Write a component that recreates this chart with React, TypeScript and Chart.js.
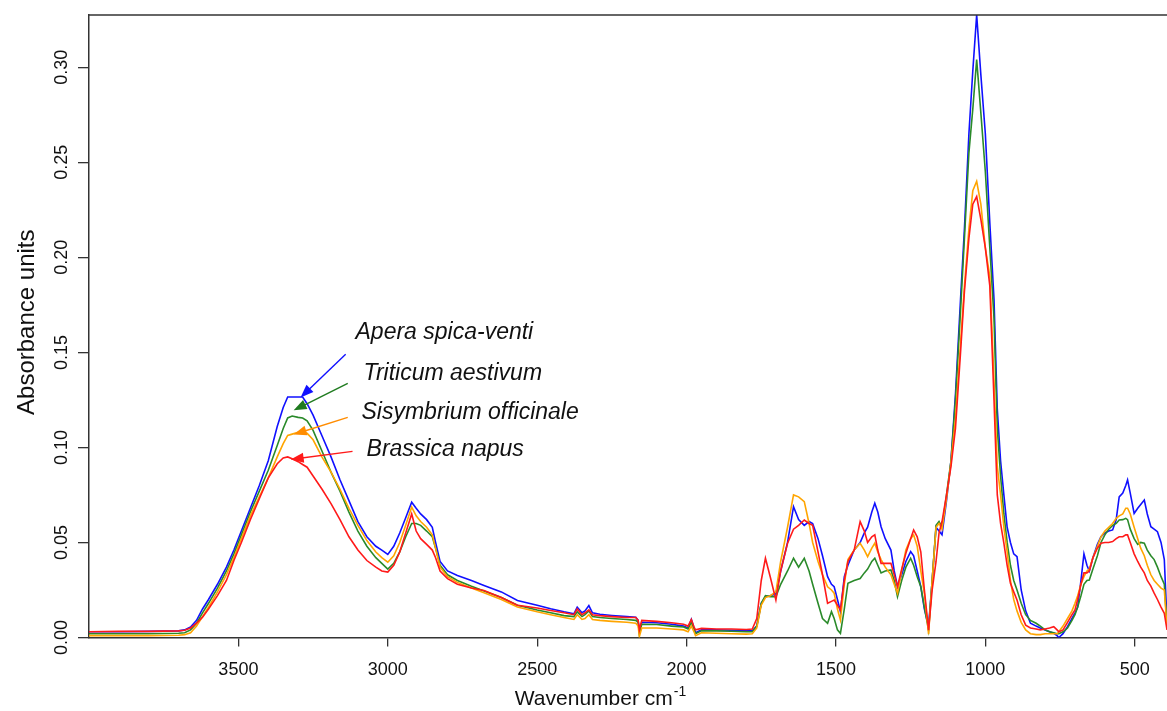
import React, { useEffect, useRef } from 'react';
import { Chart, registerables } from 'chart.js';

Chart.register(...registerables);

// Wavenumbers (cm-1) at which the spectra were read
const wavenumbers = [
  4000, 3900, 3800, 3700, 3680, 3660, 3640, 3620, 3600, 3570,
  3540, 3515, 3490, 3460, 3430, 3400, 3370, 3350, 3335, 3320,
  3300, 3285, 3270, 3250, 3220, 3190, 3160, 3130, 3100, 3070,
  3040, 3020, 3000, 2980, 2960, 2940, 2920, 2905, 2890, 2870,
  2851, 2840, 2825, 2800, 2767, 2720, 2678, 2620, 2566, 2500,
  2455, 2410, 2377, 2366, 2350, 2340, 2327, 2315, 2290, 2250,
  2200, 2170, 2162, 2158, 2150, 2100, 2050, 2010, 1995, 1984,
  1975, 1970, 1950, 1900, 1850, 1800, 1780, 1765, 1750, 1736,
  1720, 1701, 1685, 1662, 1642, 1625, 1606, 1590, 1578, 1560,
  1545, 1528, 1515, 1506, 1495, 1485, 1472, 1460, 1439, 1419,
  1405, 1394, 1380, 1370, 1360, 1349, 1335, 1316, 1305, 1294,
  1280, 1266, 1250, 1240, 1228, 1216, 1204, 1190, 1178, 1165,
  1155, 1145, 1130, 1115, 1100, 1083, 1070, 1055, 1042, 1029,
  1015, 1000, 985, 971, 960, 949, 938, 927, 916, 905,
  894, 880, 865, 849, 830, 816, 800, 785, 771, 760,
  754, 740, 725, 710, 700, 691, 680, 670, 660, 652,
  640, 625, 613, 600, 587, 574, 562, 552, 540, 530,
  524, 515, 502, 490, 480, 468, 458, 446, 435, 424,
  412, 401, 392,
];

const aperaSpicaVenti = [
  0.003, 0.003, 0.0032, 0.0035, 0.004, 0.0055, 0.009, 0.015, 0.02, 0.028,
  0.037, 0.046, 0.056, 0.068, 0.08, 0.093, 0.111, 0.121, 0.1265, 0.1265,
  0.1265, 0.1265, 0.123, 0.117, 0.106, 0.095, 0.083, 0.072, 0.061, 0.053,
  0.048, 0.046, 0.0437, 0.048, 0.055, 0.063, 0.0712, 0.068, 0.065, 0.062,
  0.058, 0.05, 0.04, 0.035, 0.0326, 0.03, 0.0274, 0.024, 0.0195, 0.017,
  0.0151, 0.0135, 0.0125, 0.016, 0.013, 0.014, 0.0168, 0.013, 0.0122, 0.0116,
  0.011, 0.0107, 0.009, 0.003, 0.008, 0.0078, 0.007, 0.006, 0.005, 0.0095,
  0.005, 0.0025, 0.004, 0.004, 0.0038, 0.0035, 0.0035, 0.006, 0.018, 0.0215,
  0.022, 0.023, 0.035, 0.05, 0.0688, 0.062, 0.059, 0.061, 0.06, 0.052,
  0.043, 0.032, 0.028, 0.0267, 0.02, 0.0136, 0.032, 0.038, 0.046, 0.05,
  0.055, 0.058, 0.066, 0.0706, 0.066, 0.0583, 0.052, 0.046, 0.035, 0.027,
  0.033, 0.04, 0.0452, 0.043, 0.035, 0.0267, 0.015, 0.0057, 0.03, 0.058,
  0.056, 0.054, 0.072, 0.093, 0.128, 0.178, 0.215, 0.265, 0.298, 0.3276,
  0.296, 0.265, 0.218, 0.178, 0.12, 0.093, 0.075, 0.058, 0.05, 0.044,
  0.0425, 0.025, 0.014, 0.0075, 0.006, 0.005, 0.004, 0.003, 0.0022, 0.001,
  0.0, 0.002, 0.0057, 0.01, 0.013, 0.016, 0.03, 0.044, 0.038, 0.035,
  0.042, 0.049, 0.053, 0.055, 0.056, 0.0566, 0.062, 0.074, 0.076, 0.08,
  0.0829, 0.076, 0.0653, 0.068, 0.07, 0.0723, 0.065, 0.0583, 0.057, 0.0557,
  0.05, 0.041, 0.008,
];

const triticumAestivum = [
  0.002, 0.002, 0.002, 0.0022, 0.0025, 0.004, 0.0075, 0.013, 0.018, 0.026,
  0.035, 0.044, 0.054, 0.066, 0.077, 0.088, 0.101, 0.11, 0.1155, 0.1165,
  0.1158, 0.1155, 0.114, 0.109, 0.098, 0.087, 0.077, 0.066, 0.056, 0.048,
  0.042, 0.039, 0.036, 0.039, 0.045, 0.053, 0.06, 0.06, 0.059, 0.056,
  0.053, 0.047, 0.038, 0.033, 0.03, 0.027, 0.0245, 0.021, 0.017, 0.0145,
  0.013, 0.0115, 0.011, 0.0135, 0.011, 0.012, 0.014, 0.011, 0.0105, 0.01,
  0.0095, 0.009, 0.008, 0.002, 0.007, 0.0068, 0.006, 0.0055, 0.0045, 0.008,
  0.0045, 0.002, 0.0035, 0.0035, 0.0033, 0.003, 0.003, 0.006, 0.018, 0.022,
  0.0215, 0.0215, 0.028, 0.035, 0.0417, 0.037, 0.0417, 0.035, 0.028, 0.018,
  0.01, 0.0075, 0.0136, 0.01, 0.004, 0.0022, 0.015, 0.0285, 0.03, 0.031,
  0.034, 0.036, 0.04, 0.0417, 0.038, 0.034, 0.035, 0.0355, 0.03, 0.0215,
  0.03, 0.037, 0.0417, 0.038, 0.032, 0.0267, 0.016, 0.004, 0.03, 0.059,
  0.061, 0.058, 0.075, 0.093, 0.125, 0.172, 0.21, 0.255, 0.278, 0.304,
  0.276, 0.245, 0.205, 0.168, 0.11, 0.085, 0.065, 0.05, 0.038, 0.03,
  0.025, 0.018, 0.012, 0.009, 0.0075, 0.006, 0.004, 0.003, 0.0025, 0.002,
  0.002, 0.003, 0.005, 0.009, 0.012, 0.016, 0.022, 0.028, 0.03, 0.0302,
  0.036, 0.043, 0.05, 0.054, 0.057, 0.059, 0.06, 0.0618, 0.062, 0.0627,
  0.062, 0.057, 0.052, 0.049, 0.05, 0.0496, 0.046, 0.043, 0.041, 0.037,
  0.032, 0.028, 0.006,
];

const sisymbriumOfficinale = [
  0.001, 0.001, 0.001, 0.0012, 0.0015, 0.0025, 0.006, 0.011, 0.016, 0.024,
  0.033, 0.042, 0.052, 0.064, 0.074, 0.084, 0.095, 0.102, 0.1063, 0.107,
  0.108, 0.108, 0.1075, 0.104, 0.0949, 0.087, 0.078, 0.068, 0.059, 0.051,
  0.045, 0.042, 0.0396, 0.043, 0.05, 0.059, 0.0686, 0.064, 0.061, 0.058,
  0.054, 0.047, 0.037, 0.032, 0.029, 0.026, 0.0235, 0.02, 0.016, 0.0135,
  0.012, 0.0105, 0.0095, 0.012, 0.0095, 0.01, 0.012, 0.0095, 0.009, 0.0085,
  0.008, 0.0075, 0.006, 0.0005, 0.005, 0.005, 0.0045, 0.004, 0.003, 0.006,
  0.003, 0.001, 0.0025, 0.0022, 0.002, 0.0018, 0.002, 0.005, 0.017, 0.021,
  0.022, 0.024, 0.04, 0.058, 0.075, 0.074, 0.0715, 0.06, 0.05, 0.04,
  0.033, 0.0267, 0.025, 0.0233, 0.015, 0.0092, 0.028, 0.041, 0.046, 0.0496,
  0.046, 0.0425, 0.047, 0.0496, 0.045, 0.041, 0.037, 0.033, 0.028, 0.0233,
  0.035, 0.046, 0.052, 0.054, 0.048, 0.035, 0.023, 0.0017, 0.03, 0.058,
  0.06, 0.057, 0.073, 0.092, 0.115, 0.155, 0.185, 0.215, 0.235, 0.24,
  0.228, 0.205, 0.19, 0.135, 0.09, 0.075, 0.058, 0.045, 0.03, 0.02,
  0.014, 0.008, 0.004, 0.002, 0.0015, 0.0015, 0.002, 0.002, 0.002, 0.002,
  0.003, 0.006, 0.01, 0.014, 0.018, 0.022, 0.028, 0.032, 0.035, 0.036,
  0.042, 0.048, 0.053, 0.056, 0.058, 0.06, 0.0627, 0.064, 0.065, 0.068,
  0.068, 0.065, 0.058, 0.052, 0.047, 0.043, 0.038, 0.033, 0.03, 0.028,
  0.026, 0.025, 0.005,
];

const brassicaNapus = [
  0.003, 0.0032, 0.0032, 0.0035, 0.0038, 0.005, 0.0075, 0.0107, 0.015, 0.022,
  0.03, 0.0405, 0.05, 0.062, 0.073, 0.084, 0.0914, 0.0945, 0.095, 0.094,
  0.0925, 0.091, 0.0896, 0.085, 0.078, 0.0704, 0.062, 0.053, 0.046, 0.0405,
  0.037, 0.035, 0.0344, 0.038, 0.045, 0.055, 0.065, 0.056, 0.052, 0.049,
  0.046, 0.042, 0.035, 0.031, 0.028, 0.026, 0.0247, 0.021, 0.017, 0.0155,
  0.0142, 0.013, 0.012, 0.015, 0.012, 0.013, 0.0145, 0.012, 0.0115, 0.011,
  0.0105, 0.0105, 0.009, 0.004, 0.009, 0.0085, 0.0078, 0.007, 0.006, 0.0095,
  0.0055, 0.004, 0.0048, 0.0045, 0.0045, 0.0042, 0.0045, 0.01, 0.03, 0.0417,
  0.032, 0.0197, 0.035, 0.0496, 0.057, 0.059, 0.0618, 0.06, 0.059, 0.045,
  0.033, 0.018, 0.019, 0.0197, 0.017, 0.0145, 0.03, 0.04, 0.046, 0.061,
  0.056, 0.05, 0.053, 0.054, 0.046, 0.039, 0.039, 0.039, 0.033, 0.0267,
  0.036, 0.0443, 0.052, 0.0566, 0.053, 0.045, 0.025, 0.0039, 0.025, 0.04,
  0.055, 0.061, 0.075, 0.09, 0.11, 0.15, 0.182, 0.21, 0.228, 0.232,
  0.22, 0.205, 0.185, 0.125, 0.075, 0.06, 0.0496, 0.038, 0.0285, 0.024,
  0.0197, 0.012, 0.0065, 0.005, 0.0045, 0.004, 0.0045, 0.005, 0.0057, 0.004,
  0.003, 0.004, 0.008, 0.012, 0.0145, 0.02, 0.028, 0.034, 0.034, 0.035,
  0.042, 0.047, 0.0496, 0.05, 0.05, 0.0505, 0.052, 0.053, 0.053, 0.054,
  0.054, 0.05, 0.044, 0.04, 0.037, 0.034, 0.03, 0.027, 0.0233, 0.02,
  0.016, 0.0127, 0.004,
];

const seriesNames = ['Apera spica-venti', 'Triticum aestivum', 'Sisymbrium officinale', 'Brassica napus'];
const seriesValues = [aperaSpicaVenti, triticumAestivum, sisymbriumOfficinale, brassicaNapus];
const seriesColors = ['#1010ff', '#2a8a2a', '#ffa500', '#ff1a1a'];
const arrowColors = ['#1010ff', '#1e7a1e', '#ff8c00', '#ff1a1a'];

const xTickValues = [3500, 3000, 2500, 2000, 1500, 1000, 500];
const yTickValues = [0, 0.05, 0.1, 0.15, 0.2, 0.25, 0.3];

// Annotation anchors in data units: [wavenumber, absorbance]
const labelAnchors = [[3108, 0.1605], [3081, 0.139], [3088, 0.1184], [3071, 0.099]];
const arrowTails = [[3141, 0.149], [3134, 0.1337], [3134, 0.1158], [3118, 0.0979]];
const arrowTips = [[3292, 0.1263], [3315, 0.1195], [3315, 0.1068], [3325, 0.0937]];

const FONT = "'Liberation Sans', Arial, Helvetica, sans-serif";

const decorPlugin = {
  id: 'decor',
  afterDraw(chart: any) {
    const { ctx, chartArea, scales } = chart;
    const xs = scales.x;
    const ys = scales.y;
    ctx.save();
    // top frame line
    ctx.strokeStyle = '#333';
    ctx.lineWidth = 1.5;
    ctx.beginPath();
    ctx.moveTo(chartArea.left, chartArea.top);
    ctx.lineTo(chartArea.right, chartArea.top);
    ctx.stroke();

    // arrows + labels
    for (let i = 0; i < seriesNames.length; i++) {
      const tx = xs.getPixelForValue(arrowTails[i][0]);
      const ty = ys.getPixelForValue(arrowTails[i][1]);
      const hx = xs.getPixelForValue(arrowTips[i][0]);
      const hy = ys.getPixelForValue(arrowTips[i][1]);
      const dx = hx - tx;
      const dy = hy - ty;
      const len = Math.sqrt(dx * dx + dy * dy);
      const ux = dx / len;
      const uy = dy / len;
      const headLen = 13;
      const headW = 5;
      ctx.strokeStyle = arrowColors[i];
      ctx.fillStyle = arrowColors[i];
      ctx.lineWidth = 1.4;
      ctx.beginPath();
      ctx.moveTo(tx, ty);
      ctx.lineTo(hx - ux * headLen * 0.7, hy - uy * headLen * 0.7);
      ctx.stroke();
      const bx = hx - ux * headLen;
      const by = hy - uy * headLen;
      ctx.beginPath();
      ctx.moveTo(hx, hy);
      ctx.lineTo(bx - uy * headW, by + ux * headW);
      ctx.lineTo(bx + uy * headW, by - ux * headW);
      ctx.closePath();
      ctx.fill();

      const lx = xs.getPixelForValue(labelAnchors[i][0]);
      const ly = ys.getPixelForValue(labelAnchors[i][1]);
      ctx.fillStyle = '#111';
      ctx.font = `italic 23px ${FONT}`;
      ctx.textAlign = 'left';
      ctx.textBaseline = 'middle';
      ctx.fillText(seriesNames[i], lx, ly);
    }

    // y axis title
    ctx.fillStyle = '#111';
    ctx.save();
    ctx.translate(27, (chartArea.top + chartArea.bottom) / 2 - 4);
    ctx.rotate(-Math.PI / 2);
    ctx.font = `24px ${FONT}`;
    ctx.textAlign = 'center';
    ctx.textBaseline = 'middle';
    ctx.fillText('Absorbance units', 0, 0);
    ctx.restore();

    // x axis title with superscript
    ctx.font = `21px ${FONT}`;
    ctx.textAlign = 'left';
    ctx.textBaseline = 'alphabetic';
    const main = 'Wavenumber cm';
    const mw = ctx.measureText(main).width;
    ctx.font = `14px ${FONT}`;
    const sw = ctx.measureText('-1').width;
    const startX = 600 - (mw + sw) / 2;
    ctx.font = `21px ${FONT}`;
    ctx.fillText(main, startX, 705);
    ctx.font = `14px ${FONT}`;
    ctx.fillText('-1', startX + mw + 1, 696);
    ctx.restore();
  },
};

export default function App() {
  const canvasRef = useRef<HTMLCanvasElement | null>(null);

  useEffect(() => {
    document.body.style.margin = '0';
    const canvas = canvasRef.current;
    if (!canvas) return;
    const chart = new Chart(canvas, {
      type: 'line',
      data: {
        datasets: seriesValues.map((vals, i) => ({
          label: seriesNames[i],
          data: wavenumbers.map((w, j) => ({ x: w, y: vals[j] })),
          borderColor: seriesColors[i],
          backgroundColor: seriesColors[i],
          borderWidth: 1.6,
          pointRadius: 0,
          tension: 0,
          fill: false,
          order: seriesNames.length - i,
        })),
      },
      options: {
        responsive: false,
        animation: false,
        devicePixelRatio: 1,
        layout: { padding: { top: 15, left: 0, right: 0, bottom: 0 } },
        plugins: {
          legend: { display: false },
          tooltip: { enabled: false },
        },
        events: [],
        scales: {
          x: {
            type: 'linear',
            reverse: true,
            min: 392,
            max: 4000,
            afterBuildTicks: (s: any) => {
              s.ticks = xTickValues.map((v) => ({ value: v }));
            },
            afterFit: (s: any) => {
              s.height = 73.5;
            },
            grid: {
              drawOnChartArea: false,
              drawTicks: true,
              tickLength: 9,
              color: '#333',
              lineWidth: 1.3,
            },
            border: { display: true, color: '#333', width: 1.5 },
            ticks: {
              autoSkip: false,
              maxRotation: 0,
              padding: 13,
              color: '#111',
              font: { family: FONT, size: 18 },
              callback: (v: any) => String(v),
            },
          },
          y: {
            type: 'linear',
            min: 0,
            max: 0.3275,
            afterBuildTicks: (s: any) => {
              s.ticks = yTickValues.map((v) => ({ value: v }));
            },
            afterFit: (s: any) => {
              s.width = 89;
            },
            grid: {
              drawOnChartArea: false,
              drawTicks: true,
              tickLength: 11,
              color: '#333',
              lineWidth: 1.3,
            },
            border: { display: true, color: '#333', width: 1.5 },
            ticks: {
              autoSkip: false,
              minRotation: 90,
              maxRotation: 90,
              crossAlign: 'center',
              padding: -2,
              color: '#111',
              font: { family: FONT, size: 18 },
              callback: (v: any) => Number(v).toFixed(2),
            },
          },
        },
      },
      plugins: [decorPlugin],
    } as any);
    return () => chart.destroy();
  }, []);

  return (
    <div style={{ width: 1167, height: 711, position: 'relative', background: '#fff' }}>
      <canvas ref={canvasRef} width={1167} height={711} style={{ display: 'block' }} />
    </div>
  );
}
